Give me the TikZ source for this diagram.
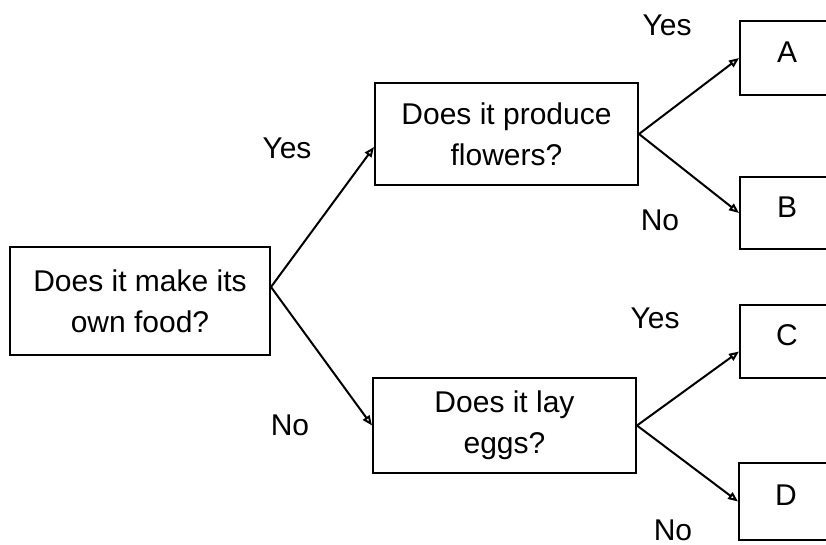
\documentclass[tikz,border=0pt]{standalone}
\usepackage{fontspec}
\setmainfont{Liberation Sans}
\usetikzlibrary {arrows.meta, positioning}

\begin{document}
\begin{tikzpicture}[
    x=1pt, y=-1pt,
    ->,
    >={Triangle[open, length=10pt, width=8pt]},
    line width=2pt,
    font=\fontsize{30}{41}\selectfont,
    question/.style={rectangle, draw, align=center, inner sep=0pt},
    answer/.style={rectangle, draw, text depth=12pt, minimum width=94pt},
]

    \useasboundingbox (0,0) rectangle (826,545);
    \clip (0,0) rectangle (826,545);

    \node[question, minimum width=260pt, minimum height=108pt] (Q1) at (140, 301)   {Does it make its\\own food?};
    \node[question, minimum width=263pt, minimum height=102pt] (Q2) at (506.5, 134) {Does it produce\\flowers?};
    \node[question, minimum width=263pt, minimum height=95pt]  (Q3) at (504.5, 425.5) {Does it lay\\eggs?};

    \node[answer, minimum height=74pt] (A) at (787, 58)    {A};
    \node[answer, minimum height=72pt] (B) at (787, 213)   {B};
    \node[answer, minimum height=73pt] (C) at (787, 341.5) {C};
    \node[answer, minimum height=77pt] (D) at (786, 501.5) {D};

    \node (Y1) at (287, 148) {Yes};
    \node (N1) at (290, 425) {No};
    \node (Y2) at (667, 25)  {Yes};
    \node (N2) at (660, 220) {No};
    \node (Y3) at (655, 318) {Yes};
    \node (N3) at (673, 530) {No};

    \path
        ([yshift=14pt]Q1.east) edge ([yshift=-13pt]Q2.west)
        ([yshift=14pt]Q1.east) edge (Q3.west)
        (Q2.east)              edge (A.west)
        (Q2.east)              edge (B.west)
        (Q3.east)              edge ([yshift=-10pt]C.west)
        (Q3.east)              edge (D.west)
    ;
\end{tikzpicture}
\end{document}
